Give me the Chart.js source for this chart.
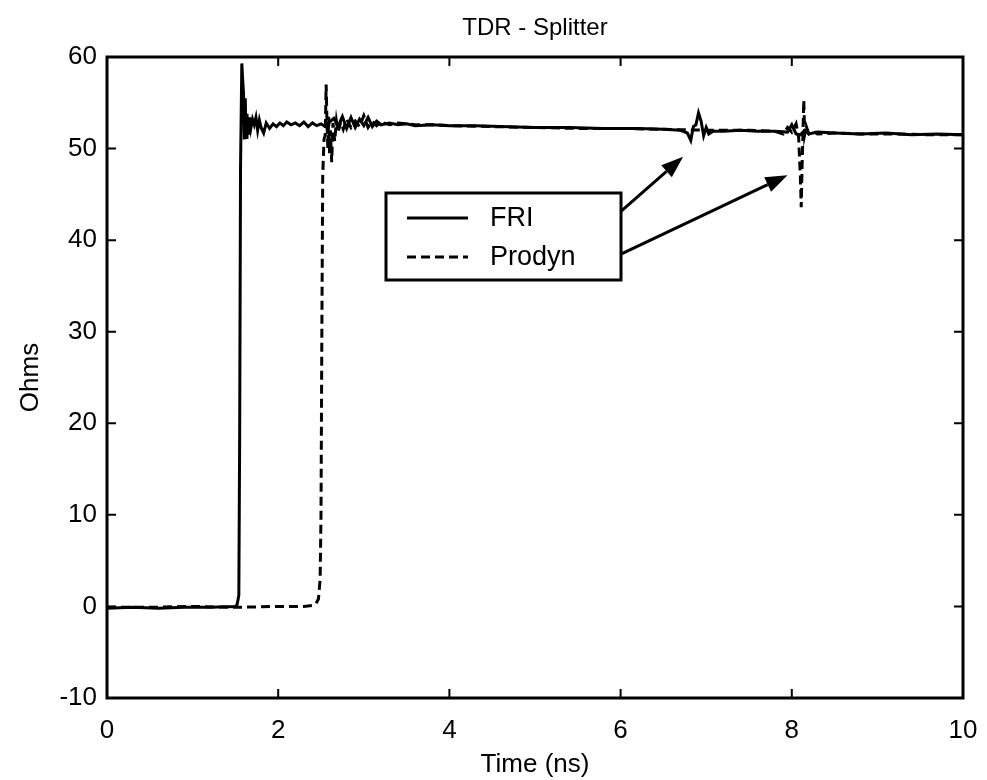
<!DOCTYPE html>
<html>
<head>
<meta charset="utf-8">
<script src="https://cdn.jsdelivr.net/npm/chart.js@4"></script>
<style>
  html, body { margin: 0; background: #fff; overflow: hidden; }
  #wrap { width: 987px; height: 780px; }
  canvas { display: block; }
</style>
</head>
<body>
<div id="wrap"><canvas id="myChart"></canvas></div>
<script>
// values
const friTime = [0, 0.3, 0.6, 0.9, 1.2, 1.5, 1.52, 1.54, 1.55, 1.56, 1.575, 1.585, 1.595, 1.605, 1.615, 1.625, 1.635, 1.65, 1.665, 1.68, 1.7, 1.72, 1.74, 1.76, 1.78, 1.8, 1.83, 1.86, 1.9, 1.94, 1.98, 2.02, 2.06, 2.1, 2.15, 2.2, 2.25, 2.3, 2.35, 2.4, 2.45, 2.5, 2.55, 2.6, 2.65, 2.7, 2.75, 2.8, 2.85, 2.9, 2.95, 3.0, 3.05, 3.1, 3.15, 3.2, 3.3, 3.4, 3.5, 3.6, 3.8, 4.0, 4.3, 4.6, 5.0, 5.4, 5.8, 6.2, 6.5, 6.7, 6.78, 6.82, 6.85, 6.88, 6.91, 6.94, 6.97, 7.0, 7.03, 7.08, 7.2, 7.4, 7.6, 7.8, 7.95, 8.0, 8.05, 8.1, 8.15, 8.2, 8.3, 8.5, 8.8, 9.1, 9.4, 9.7, 10];
const friOhms = [-0.2, -0.1, -0.2, -0.1, -0.1, 0, 0.2, 1.2, 19, 48, 59.3, 57.5, 56, 51, 55.5, 51.2, 53.8, 51.5, 53.4, 52.2, 53.2, 52.6, 53.4, 52.0, 53.1, 52.3, 51.7, 52.8, 52.2, 52.7, 52.4, 52.8, 52.5, 52.9, 52.6, 52.8, 52.5, 52.9, 52.4, 52.8, 52.5, 52.7, 52.4, 52.9, 53.3, 52.4, 53.5, 52.2, 53.4, 52.3, 53.2, 52.5, 53.4, 52.4, 53.0, 52.6, 52.8, 52.6, 52.7, 52.5, 52.6, 52.5, 52.5, 52.4, 52.3, 52.3, 52.2, 52.2, 52.1, 52.0, 51.7, 50.9, 52.4, 52.6, 53.9, 53.0, 51.4, 52.3, 51.6, 51.9, 51.9, 52.0, 51.9, 51.9, 51.8, 52.6, 51.6, 51.5, 52.0, 51.6, 51.8, 51.7, 51.6, 51.7, 51.5, 51.6, 51.5];

const prodynTime = [0, 0.5, 1.0, 1.5, 2.0, 2.3, 2.4, 2.44, 2.47, 2.49, 2.5, 2.51, 2.52, 2.535, 2.55, 2.56, 2.57, 2.58, 2.59, 2.6, 2.61, 2.625, 2.64, 2.66, 2.68, 2.7, 2.73, 2.76, 2.8, 2.85, 2.9, 2.95, 3.0, 3.05, 3.1, 3.15, 3.2, 3.3, 3.4, 3.6, 3.8, 4.0, 4.5, 5.0, 5.5, 6.0, 6.5, 7.0, 7.5, 7.8, 7.9, 7.95, 8.0, 8.05, 8.08, 8.1, 8.11, 8.12, 8.13, 8.14, 8.15, 8.17, 8.2, 8.25, 8.3, 8.5, 8.8, 9.2, 9.6, 10];
const prodynOhms = [-0.1, -0.1, 0, -0.1, 0, 0, 0.1, 0.3, 0.8, 3, 10, 30, 47, 51, 51.5, 57, 53, 50, 53.5, 49.5, 52, 48.5, 52.8, 50.8, 53, 51.8, 52.9, 52.1, 53.2, 52.3, 53.0, 52.4, 53.6, 52.3, 53.0, 52.5, 52.9, 52.6, 52.8, 52.6, 52.6, 52.5, 52.4, 52.3, 52.2, 52.2, 52.1, 52.0, 52.0, 51.9, 51.6, 52.3, 51.8, 52.7, 51.2, 47, 43.6, 48, 51.5, 55.3, 51.5, 52.4, 51.6, 51.9, 51.6, 51.7, 51.6, 51.6, 51.5, 51.5];

const seriesNames = ['FRI', 'Prodyn'];
const xTicks = [0, 2, 4, 6, 8, 10];
const yTicks = [-10, 0, 10, 20, 30, 40, 50, 60];
const chartTitle = 'TDR - Splitter';

// annotation arrows [tail time, tail ohms, head time, head ohms]
const arrowFri = [6.01, 43.2, 6.73, 49.1];
const arrowProdyn = [6.01, 38.5, 7.95, 47.1];

const FONT = 'Liberation Sans, Arial, sans-serif';

function pts(xs, ys) {
    return xs.map((x, i) => ({ x: x, y: ys[i] }));
}

// MATLAB style box with inward ticks on all sides, title over the axes, legend and arrows
const boxPlugin = {
    id: 'box',
    afterDatasetsDraw(chart) {
        const ctx = chart.ctx;
        const a = chart.chartArea;
        const xs = chart.scales.x, ys = chart.scales.y;
        ctx.save();
        ctx.strokeStyle = '#000';
        ctx.lineWidth = 3;
        ctx.strokeRect(a.left, a.top, a.right - a.left, a.bottom - a.top);
        ctx.lineWidth = 2;
        const tl = 9;
        ctx.beginPath();
        xTicks.forEach(v => {
            const px = xs.getPixelForValue(v);
            ctx.moveTo(px, a.bottom); ctx.lineTo(px, a.bottom - tl);
            ctx.moveTo(px, a.top); ctx.lineTo(px, a.top + tl);
        });
        yTicks.forEach(v => {
            const py = ys.getPixelForValue(v);
            ctx.moveTo(a.left, py); ctx.lineTo(a.left + tl, py);
            ctx.moveTo(a.right, py); ctx.lineTo(a.right - tl, py);
        });
        ctx.stroke();

        // title, centred over the axes like MATLAB does
        ctx.fillStyle = '#000';
        ctx.font = '24px ' + FONT;
        ctx.textAlign = 'center';
        ctx.textBaseline = 'middle';
        ctx.fillText(chartTitle, (a.left + a.right) / 2, 28);

        // arrows
        [arrowFri, arrowProdyn].forEach(ar => {
            const x0 = xs.getPixelForValue(ar[0]), y0 = ys.getPixelForValue(ar[1]);
            const x1 = xs.getPixelForValue(ar[2]), y1 = ys.getPixelForValue(ar[3]);
            const ang = Math.atan2(y1 - y0, x1 - x0);
            const hl = 22, hw = 8;
            const bx = x1 - hl * Math.cos(ang), by = y1 - hl * Math.sin(ang);
            ctx.lineWidth = 3;
            ctx.beginPath();
            ctx.moveTo(x0, y0); ctx.lineTo(bx, by);
            ctx.stroke();
            ctx.beginPath();
            ctx.moveTo(x1, y1);
            ctx.lineTo(bx + hw * Math.sin(ang), by - hw * Math.cos(ang));
            ctx.lineTo(bx - hw * Math.sin(ang), by + hw * Math.cos(ang));
            ctx.closePath();
            ctx.fill();
        });

        // legend box
        const L = 386, T = 193, R = 621, B = 280;
        ctx.fillStyle = '#fff';
        ctx.fillRect(L, T, R - L, B - T);
        ctx.lineWidth = 3;
        ctx.strokeRect(L, T, R - L, B - T);
        ctx.font = '27px ' + FONT;
        ctx.textAlign = 'left';
        ctx.fillStyle = '#000';
        chart.data.datasets.forEach((ds, i) => {
            const y = i === 0 ? 218 : 257;
            ctx.setLineDash(ds.borderDash || []);
            ctx.lineWidth = 3;
            ctx.beginPath();
            ctx.moveTo(407, y); ctx.lineTo(468, y);
            ctx.stroke();
            ctx.setLineDash([]);
            ctx.fillText(ds.label, 490, y + 1);
        });
        ctx.restore();
    }
};

const ctx = document.getElementById('myChart');

const myChart = new Chart(ctx, {
    type: 'line',
    data: {
        datasets: [{
            label: seriesNames[0],
            data: pts(friTime, friOhms),
            borderColor: '#000',
            borderWidth: 3,
            pointRadius: 0,
            tension: 0
        }, {
            label: seriesNames[1],
            data: pts(prodynTime, prodynOhms),
            borderColor: '#000',
            borderWidth: 3,
            borderDash: [9, 5],
            pointRadius: 0,
            tension: 0
        }]
    },
    plugins: [boxPlugin],
    options: {
        responsive: true,
        maintainAspectRatio: false,
        animation: false,
        layout: { padding: { left: 0, right: 24, top: 57, bottom: 0 } },
        plugins: {
            legend: { display: false },
            tooltip: { enabled: false },
            title: { display: false }
        },
        scales: {
            x: {
                type: 'linear',
                min: 0, max: 10,
                afterFit(s) { s.height = 82; s.paddingLeft = 0; s.paddingRight = 0; },
                afterBuildTicks(s) { s.ticks = xTicks.map(v => ({ value: v })); },
                grid: { display: false, drawTicks: false },
                border: { display: false },
                ticks: { color: '#000', padding: 17, font: { family: FONT, size: 26 }, maxRotation: 0 },
                title: {
                    display: true, text: 'Time (ns)', color: '#000',
                    font: { family: FONT, size: 26 }, padding: { top: 0, bottom: 0 }
                }
            },
            y: {
                min: -10, max: 60,
                afterFit(s) { s.width = 107; s.paddingTop = 0; s.paddingBottom = 0; },
                afterBuildTicks(s) { s.ticks = yTicks.map(v => ({ value: v })); },
                grid: { display: false, drawTicks: false },
                border: { display: false },
                ticks: { color: '#000', padding: 10, font: { family: FONT, size: 26 } },
                title: {
                    display: true, text: 'Ohms', color: '#000',
                    font: { family: FONT, size: 26 }, padding: { top: 15, bottom: 0 }
                }
            }
        }
    }
});
</script>
</body>
</html>
